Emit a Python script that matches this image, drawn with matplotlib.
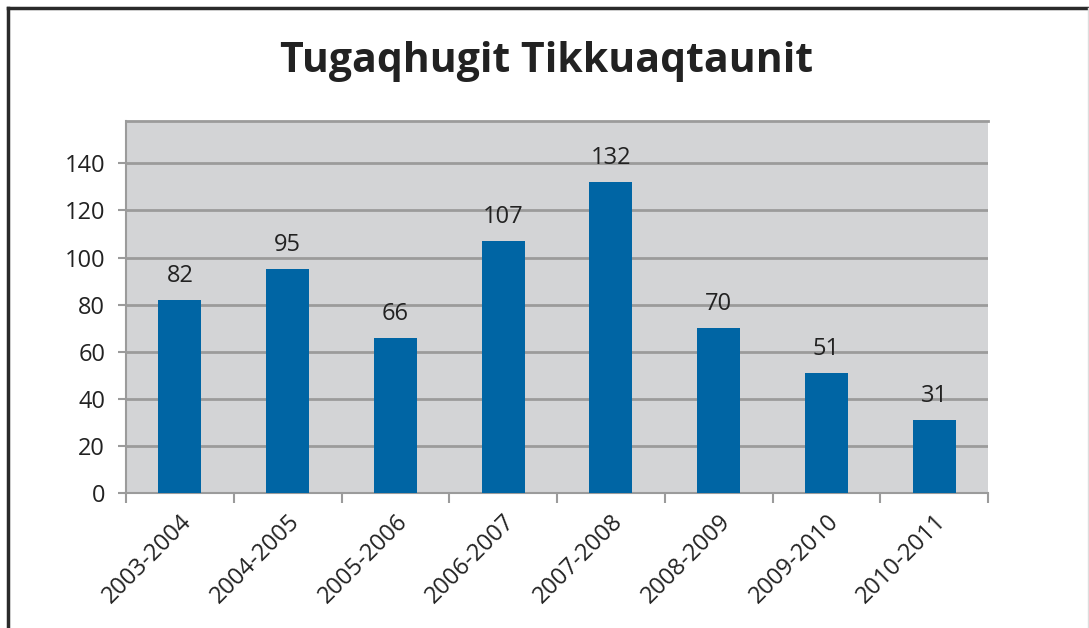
import matplotlib.pyplot as plt
from matplotlib.lines import Line2D

# data
seasons = ['2003-2004', '2004-2005', '2005-2006', '2006-2007',
           '2007-2008', '2008-2009', '2009-2010', '2010-2011']
counts = [82, 95, 66, 107, 132, 70, 51, 31]
title = 'Tugaqhugit Tikkuaqtaunit'

plt.rcParams['font.family'] = ['Open Sans', 'DejaVu Sans']

fig = plt.figure(figsize=(10.89, 6.28), dpi=100)
ax = fig.add_axes([126 / 1089, 1 - 493 / 628, (988 - 126) / 1089, (493 - 121) / 628])

ax.set_facecolor('#d3d4d6')
ax.set_axisbelow(True)
ax.grid(axis='y', color='#9b9b9b', linewidth=2)

x = range(len(seasons))
bars = ax.bar(x, counts, width=0.4, color='#0065a4', zorder=3)

# value labels above each bar
for b, v in zip(bars, counts):
    ax.annotate(str(v), (b.get_x() + b.get_width() / 2, v),
                xytext=(0, 13), textcoords='offset points',
                ha='center', va='baseline', fontsize=17, color='#222222')

ax.set_xlim(-0.5, len(seasons) - 0.5)
ax.set_ylim(0, 158)
ax.set_yticks(range(0, 141, 20))
ax.tick_params(axis='y', labelsize=17, length=6, width=1.5, color='#9b9b9b',
               labelcolor='#222222', pad=9)

# category labels between boundary ticks
ax.set_xticks([i + 0.5 for i in range(-1, len(seasons))], minor=False)
ax.set_xticklabels([''] * (len(seasons) + 1))
ax.set_xticks(list(x), minor=True)
ax.set_xticklabels(seasons, minor=True, rotation=45, ha='right',
                   rotation_mode='anchor', fontsize=17, color='#222222')
ax.tick_params(axis='x', which='major', length=7, width=1.5, color='#9b9b9b')
ax.tick_params(axis='x', which='minor', length=0, pad=12)

for side in ['left', 'bottom']:
    ax.spines[side].set_color('#9b9b9b')
    ax.spines[side].set_linewidth(1.5)
ax.spines['top'].set_color('#9b9b9b')
ax.spines['top'].set_linewidth(2)
ax.spines['right'].set_visible(False)

fig.text(547 / 1089, 1 - 62 / 628, title, ha='center', va='center',
         fontsize=29.5, fontweight='bold', color='#222222')

# outer frame of the chart box
fig.add_artist(Line2D([7.5 / 1089, 7.5 / 1089], [0, 1 - 7.5 / 628],
                      color='#2a2a2a', linewidth=2.5, transform=fig.transFigure))
fig.add_artist(Line2D([7.5 / 1089, 1], [1 - 7.5 / 628, 1 - 7.5 / 628],
                      color='#2a2a2a', linewidth=2.5, transform=fig.transFigure))
fig.add_artist(Line2D([1088 / 1089, 1088 / 1089], [0, 1 - 7.5 / 628],
                      color='#dddddd', linewidth=1, transform=fig.transFigure))

fig.savefig('out.png', dpi=100)
